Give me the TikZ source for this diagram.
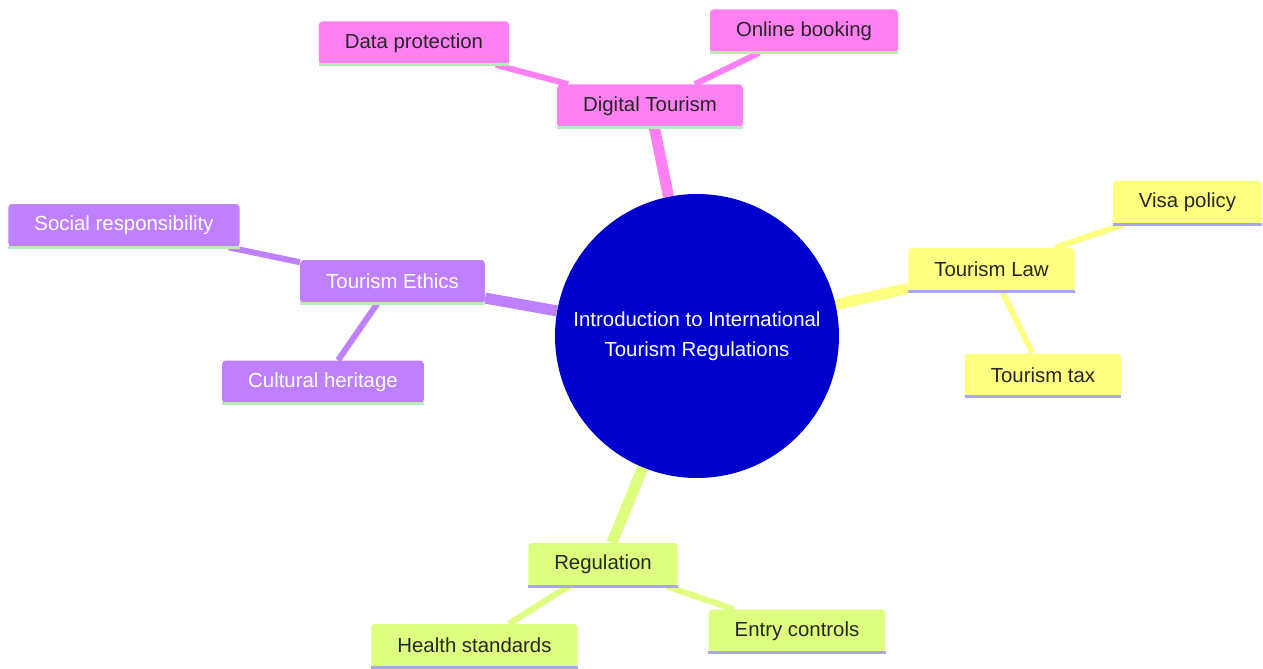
\documentclass[tikz,border=0pt]{standalone}
\usepackage{fontspec}
\setmainfont{Liberation Sans}
\usepackage {tikz}
\usetikzlibrary {positioning}
\usetikzlibrary{backgrounds}
\definecolor{digital}{RGB}{255,128,242}
\definecolor{law}{RGB}{255,255,128}
\definecolor{ethics}{RGB}{190,128,252}
\definecolor{regul}{RGB}{222,254,128}
\definecolor{hub}{RGB}{0,0,205}
\definecolor{lineg}{RGB}{182,236,182}
\definecolor{linel}{RGB}{168,168,226}
\tikzset{
    box/.style = {rectangle, rounded corners=2pt, minimum height=0.86cm,
        inner xsep=0.52cm, inner ysep=0pt, text=black!85,
        font=\fontsize{11.6}{14}\selectfont},
    trunk/.style = {line width=0.22cm},
    twig/.style = {line width=0.12cm},
    underg/.style = {draw=lineg, line width=1.6pt},
    underl/.style = {draw=linel, line width=1.6pt}}

\begin{document}
\begin{tikzpicture}[auto ,node distance =1 cm and 2cm ,on grid ,
    hubnode/.style ={ circle , fill=hub , text=white ,
    minimum size =5.68cm , align=center , font=\fontsize{11.6}{17}\selectfont}
    ]
    \useasboundingbox (-13.94,-6.64) rectangle (11.32,6.72);
    \node[hubnode] (C) {Introduction to International\\Tourism Regulations};
    % digital branch
    \node[box, fill=digital] (DT) [above left = 4.6cm and 0.94cm of C] {Digital Tourism};
    \node[box, fill=digital] (DP) [above left = 1.26cm and 4.72cm of DT] {Data protection};
    \node[box, fill=digital] (OB) [above right = 1.5cm and 3.08cm of DT] {Online booking};
    % law branch
    \node[box, fill=law] (TL) [above right = 1.33cm and 5.89cm of C] {Tourism Law};
    \node[box, fill=law] (VP) [above right = 1.34cm and 3.92cm of TL] {Visa policy};
    \node[box, fill=law] (TT) [below right = 2.11cm and 1.03cm of TL] {Tourism tax};
    % ethics branch
    \node[box, fill=ethics, text=white] (TE) [above left = 1.09cm and 6.09cm of C] {Tourism Ethics};
    \node[box, fill=ethics, text=white] (SR) [above left = 1.12cm and 5.37cm of TE] {Social responsibility};
    \node[box, fill=ethics, text=white] (CH) [below left = 2.01cm and 1.39cm of TE] {Cultural heritage};
    % regulation branch
    \node[box, fill=regul] (RG) [below left = 4.57cm and 1.88cm of C] {Regulation};
    \node[box, fill=regul] (HS) [below left = 1.62cm and 2.57cm of RG] {Health standards};
    \node[box, fill=regul] (EC) [below right = 1.33cm and 3.88cm of RG] {Entry controls};
    \begin{scope}[on background layer]
    \draw[trunk, digital] (C) -- (DT);
    \draw[trunk, law] (C) -- (TL);
    \draw[trunk, ethics] (C) -- (TE);
    \draw[trunk, regul] (C) -- (RG);
    \draw[twig, digital] (DT) -- (DP);
    \draw[twig, digital] (DT) -- (OB);
    \draw[twig, law] (TL) -- (VP);
    \draw[twig, law] (TL) -- (TT);
    \draw[twig, ethics] (TE) -- (SR);
    \draw[twig, ethics] (TE) -- (CH);
    \draw[twig, regul] (RG) -- (HS);
    \draw[twig, regul] (RG) -- (EC);
    \end{scope}
    \foreach \n in {DT,DP,OB,TE,SR,CH}
        \draw[underg] (\n.south west) -- (\n.south east);
    \foreach \n in {TL,VP,TT,RG,HS,EC}
        \draw[underl] (\n.south west) -- (\n.south east);
    \end{tikzpicture}
\end{document}
